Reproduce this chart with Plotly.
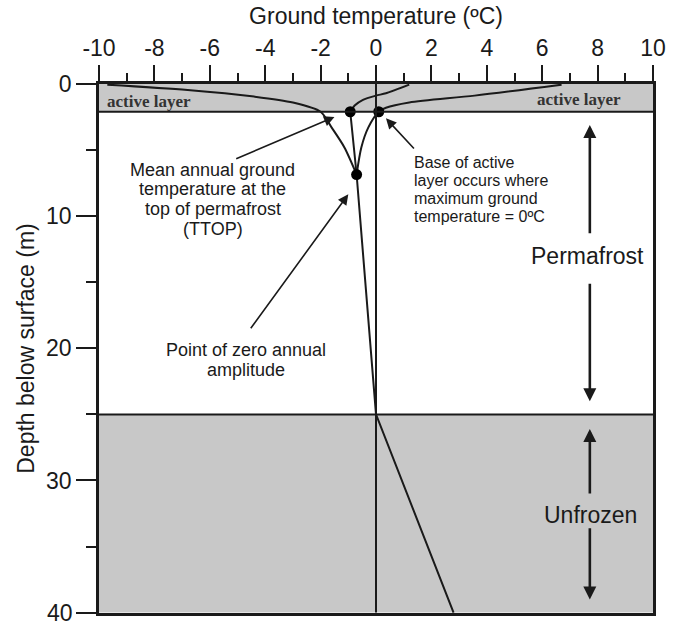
import plotly.graph_objects as go

# Temperature envelope within the active layer and below (T in degC, depth in m)
min_temp = [-9.7, -6.8, -4.4, -3.0, -2.0, -1.6, -1.14, -0.7]
min_depth = [0.05, 0.45, 0.95, 1.4, 2.1, 3.3, 4.8, 6.85]

max_temp = [6.7, 3.56, 1.2, 0.36, 0.1, -0.28, -0.53, -0.7]
max_depth = [0.05, 0.88, 1.4, 1.8, 2.1, 3.3, 4.8, 6.85]

# Mean annual ground temperature: curved near the surface, linear below
mean_top_temp = [1.2, 0.36, 0.0, -0.47, -0.77, -0.93]
mean_top_depth = [0.05, 0.7, 0.88, 1.2, 1.63, 2.1]
mean_deep_temp = [-0.93, -0.7, 0.0, 2.8]
mean_deep_depth = [2.1, 6.85, 25.0, 40.0]

# Key points: TTOP, base of active layer, zero annual amplitude
point_temp = [-0.93, 0.1, -0.7]
point_depth = [2.1, 2.1, 6.85]

active_layer_base = 2.1
permafrost_base = 25.0
freezing_point = 0.0

x_ticks = list(range(-10, 11, 2))
y_ticks = [0, 10, 20, 30, 40]

GRAY = "#c8c8c8"
INK = "#1a1a1a"
SANS = "Liberation Sans, Arial, sans-serif"
SERIF = "Liberation Serif, Times New Roman, serif"

fig = go.Figure()

line_style = dict(color=INK, width=2)
fig.add_trace(go.Scatter(x=min_temp, y=min_depth, mode="lines",
                         line=dict(shape="spline", smoothing=0.8, **line_style)))
fig.add_trace(go.Scatter(x=max_temp, y=max_depth, mode="lines",
                         line=dict(shape="spline", smoothing=0.8, **line_style)))
fig.add_trace(go.Scatter(x=mean_top_temp, y=mean_top_depth, mode="lines",
                         line=dict(shape="spline", smoothing=0.8, **line_style)))
fig.add_trace(go.Scatter(x=mean_deep_temp, y=mean_deep_depth, mode="lines",
                         line=line_style))
fig.add_trace(go.Scatter(x=point_temp, y=point_depth, mode="markers",
                         marker=dict(color="black", size=11)))

# Shaded layers and reference lines
fig.add_shape(type="rect", x0=-10, x1=10, y0=0, y1=active_layer_base,
              fillcolor=GRAY, line_width=0, layer="below")
fig.add_shape(type="rect", x0=-10, x1=10, y0=permafrost_base, y1=40,
              fillcolor=GRAY, line_width=0, layer="below")
fig.add_shape(type="line", x0=-10, x1=10, y0=active_layer_base, y1=active_layer_base,
              line=dict(color=INK, width=2))
fig.add_shape(type="line", x0=-10, x1=10, y0=permafrost_base, y1=permafrost_base,
              line=dict(color=INK, width=2))
fig.add_shape(type="line", x0=freezing_point, x1=freezing_point, y0=0, y1=40,
              line=dict(color=INK, width=2))

# Labels inside the plot
fig.add_annotation(x=-9.8, y=1.3, text="<b>active layer</b>", showarrow=False,
                   xanchor="left", font=dict(family=SERIF, size=17, color="#333"))
fig.add_annotation(x=8.9, y=1.15, text="<b>active layer</b>", showarrow=False,
                   xanchor="right", font=dict(family=SERIF, size=17, color="#333"))


def text_block(lines, x, depths, size, xanchor="center"):
    """Write a multi-line note one line at a time for tight line spacing."""
    for line, d in zip(lines, depths):
        fig.add_annotation(x=x, y=d, text=line, showarrow=False, xanchor=xanchor,
                           font=dict(family=SANS, size=size, color=INK))


text_block(["Mean annual ground", "temperature at the", "top of permafrost", "(TTOP)"],
           -5.9, [6.54, 7.97, 9.47, 10.98], 18)
text_block(["Point of zero annual", "amplitude"], -4.7, [20.15, 21.65], 18)
text_block(["Base of active", "layer occurs where", "maximum ground",
            "temperature = 0ºC"], 1.3, [5.94, 7.29, 8.65, 10.0], 16, xanchor="left")

fig.add_annotation(x=7.65, y=13.0, text="Permafrost", showarrow=False,
                   font=dict(family=SANS, size=23, color=INK))
fig.add_annotation(x=7.75, y=32.6, text="Unfrozen", showarrow=False,
                   font=dict(family=SANS, size=23, color=INK))

# Pointer arrows (head, tail)
arrows = [
    ((-1.5, 2.5), (-5.1, 5.7), 1.6),
    ((-1.0, 8.35), (-4.56, 18.6), 1.6),
    ((0.36, 2.6), (1.42, 5.0), 1.6),
    ((7.72, 3.1), (7.72, 11.4), 2.6),
    ((7.72, 24.0), (7.72, 15.0), 2.6),
    ((7.72, 26.1), (7.72, 31.1), 2.6),
    ((7.72, 39.0), (7.72, 33.5), 2.6),
]
for (hx, hy), (tx, ty), w in arrows:
    fig.add_annotation(x=hx, y=hy, ax=tx, ay=ty, xref="x", yref="y",
                       axref="x", ayref="y", text="", showarrow=True,
                       arrowhead=2, arrowsize=1.3 if w < 2 else 1.0,
                       arrowwidth=w, arrowcolor=INK)

fig.update_xaxes(
    side="top", range=[-10, 10], tickvals=x_ticks,
    ticktext=[str(v) for v in x_ticks],
    ticks="outside", ticklen=16, tickwidth=2, tickcolor=INK,
    minor=dict(dtick=1, ticks="outside", ticklen=8, tickwidth=2, tickcolor=INK),
    showline=True, linecolor=INK, linewidth=2.5, mirror=True,
    showgrid=False, zeroline=False,
    tickfont=dict(family=SANS, size=23, color=INK),
    title=dict(text="Ground temperature (ºC)", font=dict(family=SANS, size=23, color=INK),
               standoff=4),
)
fig.update_yaxes(
    range=[40.03, 0], tickvals=y_ticks,
    ticks="outside", ticklen=20, tickwidth=2, tickcolor=INK,
    minor=dict(dtick=5, ticks="outside", ticklen=10, tickwidth=2, tickcolor=INK),
    showline=True, linecolor=INK, linewidth=2.5, mirror=True,
    showgrid=False, zeroline=False,
    tickfont=dict(family=SANS, size=23, color=INK),
    title=dict(text="Depth below surface (m)", font=dict(family=SANS, size=23, color=INK),
               standoff=6),
)

# The bottom depth label sits on the page edge, where the axis drops it; draw it directly
fig.add_annotation(x=-0.044, xref="paper", y=y_ticks[-1], yref="y",
                   text=str(y_ticks[-1]), showarrow=False, xanchor="right",
                   yanchor="middle", font=dict(family=SANS, size=23, color=INK))

fig.update_layout(
    width=674, height=624,
    margin=dict(l=99, r=13, t=84, b=8),
    paper_bgcolor="white", plot_bgcolor="white",
    showlegend=False,
)

fig.write_html("out.html")
